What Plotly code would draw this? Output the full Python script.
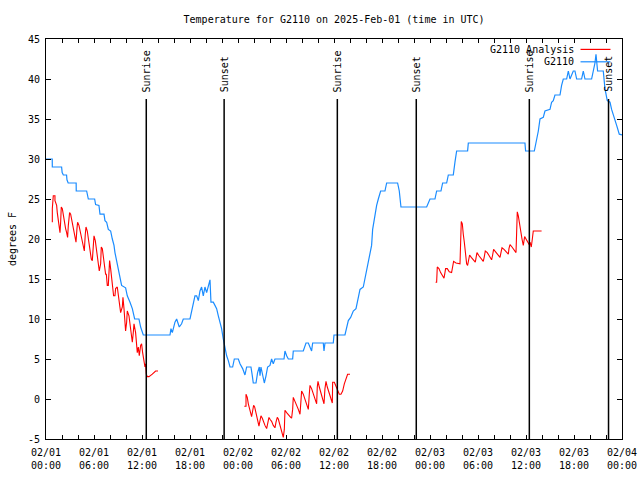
import pandas as pd
import plotly.graph_objects as go

BASE = pd.Timestamp("2025-02-01 00:00")

# G2110 observations: hours since 2025-02-01 00:00 UTC, temperature (F)
obs_hours = [0.0, 0.78, 0.79, 1.95, 2.02, 2.17, 2.57, 2.62, 2.77, 3.77, 3.78, 5.08, 5.29, 6.08, 6.2, 6.62,
             6.75, 7.25, 7.37, 7.58, 7.79, 8.08, 8.29, 8.5, 8.62, 8.79, 9.0, 9.25, 9.45, 9.95, 10.16, 10.5,
             10.79, 11.08, 11.62, 11.83, 12.16,
             15.5, 15.62, 15.79, 15.91, 16.12, 16.33, 16.54, 16.66, 16.95, 17.16, 18.0, 18.2, 18.41, 18.62,
             18.83, 19.04, 19.25, 19.45, 19.66, 19.87, 20.08, 20.29, 20.5, 20.62, 20.91, 21.12, 21.33, 21.54,
             21.75, 21.95, 22.16, 22.37, 22.58, 22.79, 23.0, 23.33, 23.54, 24.04, 24.25,
             24.58, 24.87, 25.08, 25.62, 25.79, 25.91, 26.25, 26.45, 26.66, 26.75, 26.87, 27.08, 27.29, 27.5,
             27.7, 28.0, 28.2, 28.41, 28.62, 29.75, 29.87, 30.08, 30.29, 30.83, 30.91, 32.16, 32.5, 32.79,
             33.0, 33.2, 33.33, 34.66, 34.75, 34.87, 35.91, 36.0,
             37.37, 37.58, 37.79, 38.08, 38.41, 38.75, 38.91, 39.25, 39.66, 39.87, 40.08, 40.29, 40.5, 40.7,
             40.83, 41.04, 41.33, 41.54, 41.83, 42.37, 42.58, 43.95, 44.16, 44.37, 47.58, 48.0, 48.62, 48.83,
             49.37, 49.58, 50.08, 50.29, 50.91, 51.12, 51.33, 52.7, 52.79, 59.87, 59.95, 61.04, 61.25,
             61.54, 61.75, 62.16, 62.37, 63.0, 63.2, 63.41, 63.62, 64.25, 64.45, 64.66, 65.08, 65.29, 65.5,
             65.91, 66.12, 66.33, 66.95, 67.16, 67.37, 68.2, 68.41, 68.62, 68.75, 68.87, 68.95, 69.66, 69.87,
             70.16, 70.5, 70.7, 71.12, 71.33, 71.66, 72.0]
obs_temp = [30, 30, 29, 29, 28.3, 28, 28, 27.4, 27, 27, 26, 26, 25, 25, 24.3, 24.2,
            23.1, 23.1, 22.3, 22.1, 21.2, 21, 20, 19.2, 18.3, 17.5, 16.5, 15.4, 14.2, 13.9, 12.9, 12.1,
            11.3, 10, 10, 9, 8,
            8, 8.8, 8.3, 8.8, 9.6, 10, 9.4, 9, 9.4, 10, 10, 11, 12.1, 12.9,
            12.9, 12.3, 13.5, 14, 12.9, 14, 13.3, 14.2, 14.9, 12.1, 12.1, 11.7, 11.3, 10.4,
            9.6, 8.8, 7.5, 6.3, 5.4, 4.8, 4, 4, 5, 5, 4.4,
            3.8, 3, 4, 4, 2.9, 2, 2, 3.3, 4, 2.9, 4, 2.9, 2, 2.9,
            4, 4.2, 5, 4.4, 5, 5, 6, 5.4, 5, 5, 6, 6, 7, 7,
            6.5, 6, 7, 7, 6, 7, 7, 8,
            8, 9, 9.8, 10.2, 11, 11.3, 12.1, 13.7, 14, 15, 15.8, 17.1, 17.9, 19.2,
            21.2, 22.7, 24.2, 25, 26, 26, 27, 27, 26, 24, 24, 25, 25, 26,
            26, 27, 27, 28, 28, 29.6, 31, 31, 32, 32, 31, 31, 32,
            33.5, 35, 35.2, 36, 36.2, 37.1, 37.3, 38, 38, 39.2, 40, 40, 41, 40,
            41, 41, 40, 40, 41, 40, 40, 41, 42, 43.1, 42, 41, 41, 38.8,
            37.3, 37.1, 36.2, 35, 34.2, 33.1, 33]

# G2110 analysis (three runs)
ana1_hours = [0.79, 0.79, 0.91, 1.12, 1.12, 1.33, 1.41, 1.54, 1.66, 1.75, 1.83, 1.91, 2.04, 2.16, 2.33, 2.45,
              2.58, 2.7, 2.79, 2.95, 3.08, 3.2, 3.33, 3.5, 3.62, 3.75, 3.87, 3.95, 4.12, 4.25, 4.37, 4.54,
              4.66, 4.79, 4.91, 5.0, 5.16, 5.29, 5.41, 5.54, 5.66, 5.79, 5.91, 6.0, 6.16, 6.29, 6.41, 6.54,
              6.66, 6.83, 6.91, 7.04, 7.16, 7.33, 7.45, 7.54, 7.66, 7.79, 7.87, 7.95, 8.08, 8.2, 8.33, 8.45,
              8.62, 8.7, 8.91, 9.0, 9.12, 9.25, 9.33, 9.54, 9.62, 9.75, 9.83, 9.95, 10.08, 10.16, 10.37, 10.5,
              10.66, 10.79, 10.91, 11.0, 11.2, 11.33, 11.41, 11.54, 11.66, 11.83, 11.95, 12.08, 12.25, 12.37,
              12.45, 12.54, 12.66, 12.87, 13.29, 13.7, 14.0]
ana1_temp = [22.1, 23.8, 25.4, 25.4, 24.8, 24.2, 23.3, 22.3, 21.7, 20.8, 22.1, 24, 23.8, 22.9, 22.3, 21.3,
             20.8, 20.2, 21.7, 23.3, 23.1, 22.5, 21.7, 20.8, 20.4, 19.6, 21.3, 22.1, 21.7, 21, 20.4, 19.6,
             19.2, 18.5, 20.6, 21.5, 21, 20.2, 19.6, 18.3, 17.5, 17.3, 19.2, 20.4, 19.8, 18.8, 17.9, 16.7,
             16, 16.9, 19, 18.8, 17.7, 16.7, 15.6, 15.6, 14.2, 14.2, 16.7, 17.3, 16.3, 15, 13.8, 12.9,
             12.9, 13.8, 14, 13.3, 12.1, 11.3, 10.8, 11.5, 12.7, 11.3, 9.6, 8.5, 9.6, 11, 10.4, 9.2,
             7.9, 7.1, 8.3, 9.4, 8.3, 7.1, 5.8, 6.5, 5.4, 6.7, 6.9, 5.8, 4.6, 4,
             4.4, 3.1, 2.8, 2.8, 3.1, 3.5, 3.5]

ana2_hours = [24.79, 25.0, 25.0, 25.16, 25.29, 25.41, 25.58, 25.7, 25.83, 25.95, 26.08, 26.2, 26.33, 26.45,
              26.62, 26.75, 26.87, 27.04, 27.2, 27.37, 27.58, 27.7, 27.87, 28.04, 28.2, 28.41, 28.62, 28.75,
              28.91, 29.04, 29.25, 29.45, 29.66, 29.79, 29.87, 30.08, 30.29, 30.58, 30.7, 30.83, 30.91, 31.12,
              31.33, 31.54, 31.75, 31.87, 31.95, 32.16, 32.37, 32.58, 32.79, 32.91, 33.0, 33.2, 33.41, 33.62,
              33.83, 33.91, 34.0, 34.16, 34.33, 34.54, 34.75, 34.87, 35.0, 35.16, 35.37, 35.58, 35.79, 35.83,
              36.04, 36.25, 36.45, 36.66, 36.87, 37.08, 37.29, 37.5, 37.7, 38.0]
ana2_temp = [-0.9, -0.9, 0.6, 0.2, -0.6, -1, -1.7, -2.2, -1.5, -0.8, -1, -1.6, -2.1, -2.7,
             -3.4, -2.7, -2.1, -2.4, -2.9, -3.3, -3.7, -3.1, -2.3, -2.6, -2.8, -3.3, -3.6, -2.9,
             -2.3, -2.5, -3.3, -4.2, -4.8, -3.8, -1.4, -1.7, -2, -2.3, -2.4, -1.3, 0.2, -0.2,
             -0.8, -1.3, -1.9, -0.2, 1, 0.6, 0, -0.8, -1.3, 0.6, 1.7, 1.3, 0.6, 0,
             -0.6, 1.5, 2.2, 1.5, 0.8, 0.2, -0.6, 1.3, 2.2, 1.5, 0.8, 0, -0.5, 2.1,
             2.1, 1.6, 1, 0.6, 0.6, 1, 1.9, 2.7, 3.1, 3.1]

ana3_hours = [48.7, 48.83, 48.91, 49.12, 49.33, 49.54, 49.75, 49.87, 49.95, 50.16, 50.41, 50.7, 50.83, 50.95,
              51.25, 51.54, 51.75, 51.83, 51.91, 52.04, 52.08, 52.16, 52.29, 52.41, 52.58, 52.7, 52.83, 52.95,
              53.16, 53.41, 53.66, 53.75, 53.87, 54.12, 54.37, 54.66, 54.79, 54.91, 55.16, 55.41, 55.7, 55.83,
              55.95, 56.2, 56.45, 56.75, 56.87, 57.0, 57.25, 57.5, 57.79, 57.87, 58.0, 58.25, 58.5, 58.75,
              58.83, 58.91, 59.04, 59.12, 59.25, 59.37, 59.5, 59.66, 59.75, 59.83, 60.0, 60.2, 60.41, 60.5,
              60.66, 60.79, 60.91, 61.66, 61.95]
ana3_temp = [14.6, 14.6, 16.5, 16.3, 15.8, 15.4, 15.1, 15.8, 16.3, 16.3, 15.9, 15.8, 16.7, 17.2,
             17, 16.9, 16.9, 19.6, 22.2, 21.9, 21.3, 20.6, 19.6, 18.3, 16.9, 16.7, 17.7, 18,
             17.7, 17.4, 17.1, 17.6, 18.3, 17.9, 17.6, 17.2, 17.8, 18.5, 18.3, 17.9, 17.4, 18,
             18.7, 18.4, 18.1, 17.7, 18.3, 18.9, 18.7, 18.4, 18.1, 18.8, 19.3, 19, 18.7, 18.3,
             20.8, 23.4, 22.9, 22.3, 21.3, 20.8, 20, 19.2, 19.6, 20.3, 20, 19.6, 19.3, 19.6,
             19, 20, 21, 21, 21]

sun_events = ["Sunrise", "Sunset", "Sunrise", "Sunset", "Sunrise", "Sunset"]
sun_times = ["2025-02-01 12:32", "2025-02-01 22:16", "2025-02-02 12:25",
             "2025-02-02 22:17", "2025-02-03 12:25", "2025-02-03 22:19"]

tick_labels = ["02/01<br>00:00", "02/01<br>06:00", "02/01<br>12:00", "02/01<br>18:00",
               "02/02<br>00:00", "02/02<br>06:00", "02/02<br>12:00", "02/02<br>18:00",
               "02/03<br>00:00", "02/03<br>06:00", "02/03<br>12:00", "02/03<br>18:00",
               "02/04<br>00:00"]
y_ticks = [-5, 0, 5, 10, 15, 20, 25, 30, 35, 40, 45]

FONT = "DejaVu Sans Mono"
BLUE = "#1a8cff"
RED = "#ff0000"


def to_time(hours):
    return BASE + pd.to_timedelta(hours, unit="h")


fig = go.Figure()
for hrs, tmp in [(ana1_hours, ana1_temp), (ana2_hours, ana2_temp), (ana3_hours, ana3_temp)]:
    fig.add_trace(go.Scatter(x=to_time(hrs), y=tmp, mode="lines",
                             line=dict(color=RED, width=1.1), showlegend=False, hoverinfo="skip"))
fig.add_trace(go.Scatter(x=to_time(obs_hours), y=obs_temp, mode="lines",
                         line=dict(color=BLUE, width=1.2), showlegend=False, hoverinfo="skip"))

# sunrise / sunset markers
for ev, t in zip(sun_events, sun_times):
    fig.add_shape(type="line", xref="x", yref="y", x0=t, x1=t, y0=-5, y1=37.5,
                  line=dict(color="black", width=1.5))
    fig.add_annotation(x=t, y=38.1, xref="x", yref="y", text=ev, textangle=-90,
                       showarrow=False, xanchor="center", yanchor="bottom",
                       font=dict(family=FONT, size=10, color="black"))

# gnuplot-style legend (text left, sample right)
legend_items = [("G2110 Analysis", RED, 0.974), ("G2110", BLUE, 0.943)]
for label, col, yp in legend_items:
    fig.add_annotation(x=0.92, y=yp, xref="paper", yref="paper", text=label, showarrow=False,
                       xanchor="right", yanchor="middle", font=dict(family=FONT, size=10, color="black"))
    fig.add_shape(type="line", xref="paper", yref="paper", x0=0.928, x1=0.98, y0=yp, y1=yp,
                  line=dict(color=col, width=1.2))

tickvals = pd.date_range(BASE, BASE + pd.Timedelta(hours=72), freq="2h")
ticktext = []
for i in range(len(tickvals)):
    ticktext.append(tick_labels[i // 3] if i % 3 == 0 else "")

fig.update_layout(
    width=640, height=480,
    margin=dict(l=46, r=18, t=39, b=41, autoexpand=False),
    paper_bgcolor="white", plot_bgcolor="white",
    font=dict(family=FONT, size=10, color="black"),
    title=dict(text="Temperature for G2110 on 2025-Feb-01 (time in UTC)", x=0.522, xanchor="center",
               y=0.96, yanchor="middle", font=dict(family=FONT, size=10, color="black")),
    showlegend=False,
)
fig.update_xaxes(range=[BASE, BASE + pd.Timedelta(hours=72)], tickvals=tickvals, ticktext=ticktext,
                 ticks="inside", ticklen=4, tickcolor="black", showgrid=False, zeroline=False,
                 showline=True, linecolor="black", linewidth=1, mirror="allticks", automargin=False,
                 ticklabelstandoff=4,
                 tickfont=dict(family=FONT, size=10, color="black"))
fig.update_yaxes(range=[-5, 45], tickvals=y_ticks, ticktext=[str(v) for v in y_ticks],
                 ticks="inside", ticklen=5, tickcolor="black", showgrid=False, zeroline=False,
                 showline=True, linecolor="black", linewidth=1, mirror="allticks", automargin=False,
                 ticklabelstandoff=3,
                 title=dict(text="degrees F", standoff=9, font=dict(family=FONT, size=10, color="black")),
                 tickfont=dict(family=FONT, size=10, color="black"))

fig.write_html("out.html", config={"displayModeBar": False},
               post_script="document.body.style.margin='0px';")
